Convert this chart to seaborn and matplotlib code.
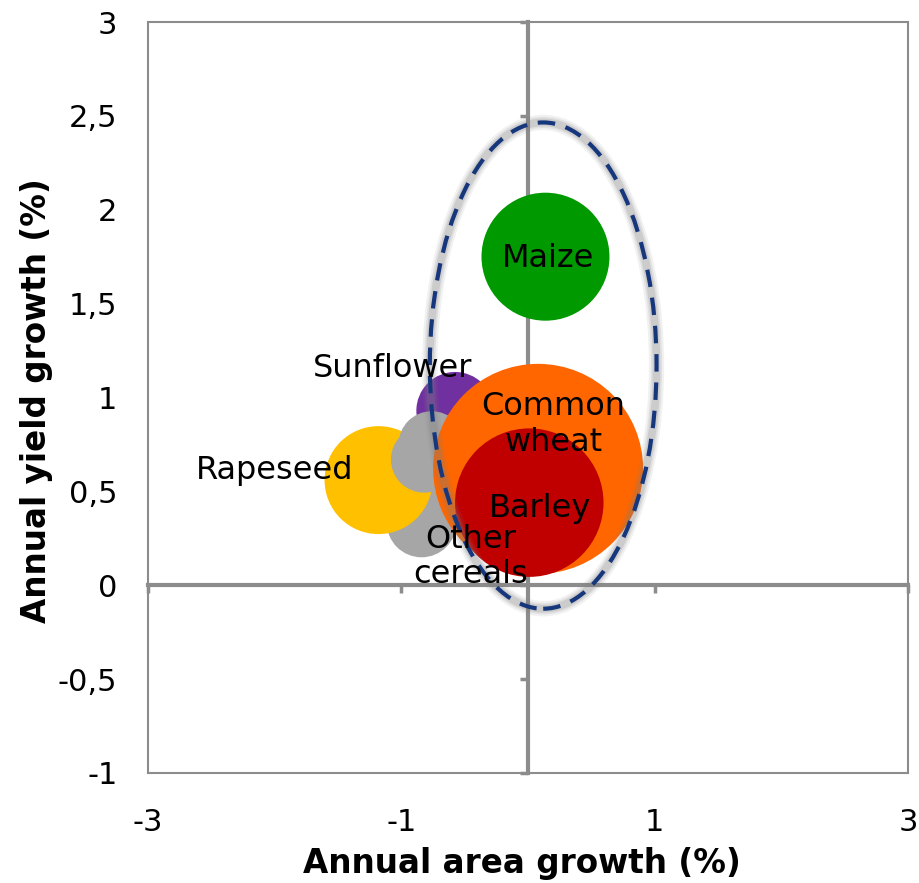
import matplotlib
matplotlib.use("Agg")
import matplotlib.pyplot as plt
import seaborn as sns
import pandas as pd
from matplotlib.patches import Ellipse

# Crop bubbles, listed in drawing order (later rows sit on top)
crops = ["Other cereals", "Rapeseed", "Sunflower", "Other cereals", "Other cereals",
         "Common wheat", "Barley", "Maize"]
area_growth = [-0.84, -1.18, -0.576, -0.76, -0.82, 0.08, 0.01, 0.138]
yield_growth = [0.335, 0.56, 0.93, 0.75, 0.67, 0.62, 0.44, 1.75]
production = [15.5, 37, 19, 14, 14, 140, 70, 52]

x_ticks = [-3, -1, 1, 3]
y_ticks = [-1, -0.5, 0, 0.5, 1, 1.5, 2, 2.5, 3]
y_tick_labels = [("%g" % v).replace(".", ",") for v in y_ticks]

palette = {
    "Maize": "#009900",
    "Common wheat": "#FF6600",
    "Barley": "#C00000",
    "Sunflower": "#7030A0",
    "Rapeseed": "#FFC000",
    "Other cereals": "#A6A6A6",
}
label_text = {
    "Maize": "Maize",
    "Common wheat": "Common\nwheat",
    "Barley": "Barley",
    "Sunflower": "Sunflower",
    "Rapeseed": "Rapeseed",
    "Other cereals": "Other\ncereals",
}
label_offset = {  # points, relative to the bubble centre
    "Maize": (2, -1),
    "Common wheat": (11, 32),
    "Barley": (8, -4),
    "Sunflower": (-45, 30),
    "Rapeseed": (-75, 7),
    "Other cereals": (35, -25),
}

df = pd.DataFrame({"crop": crops, "area": area_growth, "yield": yield_growth,
                   "prod": production})

sns.set_theme(style="white")
plt.rcParams["font.family"] = ["DejaVu Sans"]

GRID = "#8C8C8C"
fig = plt.figure(figsize=(9.2, 8.83), dpi=100)
pos = [148 / 920, 110 / 883, 760 / 920, 751 / 883]

# Back axes: the axis lines crossing at zero, with their tick marks
ax0 = fig.add_axes(pos)
ax = fig.add_axes(pos, sharex=ax0, sharey=ax0)
ax0.set_xlim(-3, 3)
ax0.set_ylim(-1, 3)
ax0.set_xticks(x_ticks)
ax0.set_yticks(y_ticks)
for s in ("top", "right"):
    ax0.spines[s].set_visible(False)
for s in ("left", "bottom"):
    ax0.spines[s].set_position(("data", 0))
    ax0.spines[s].set_color(GRID)
    ax0.spines[s].set_linewidth(3)
ax0.tick_params(direction="out", length=6, width=2.5, color=GRID,
                labelleft=False, labelbottom=False, left=True, bottom=True)
ax0.set_facecolor("white")

# Front axes: bubbles, frame, labels
ax.set_zorder(2)
ax.patch.set_alpha(0)
sns.scatterplot(data=df, x="area", y="yield", hue="crop", palette=palette,
                size="prod", sizes=(0, 22861), size_norm=(0, 140),
                linewidth=0, alpha=1, legend=False, ax=ax, zorder=3)
ax.set_xlabel("")
ax.set_ylabel("")

ell_kw = dict(xy=(0.12, 1.17), width=1.79, height=2.59, fill=False)
for lw, a in ((11, 0.10), (8, 0.14), (5.5, 0.2)):
    ax.add_patch(Ellipse(**ell_kw, lw=lw, edgecolor="#7F7F7F", alpha=a, zorder=4))
ax.add_patch(Ellipse(**ell_kw, lw=3, edgecolor="#17377D",
                     linestyle=(0, (4.2, 2.6)), zorder=5))

seen = set()
for c, xv, yv in zip(crops, area_growth, yield_growth):
    if c in seen:
        continue
    seen.add(c)
    ax.annotate(label_text[c], xy=(xv, yv), xytext=label_offset[c],
                textcoords="offset points", ha="center", va="center",
                fontsize=23, color="black", linespacing=1.2, zorder=6)

ax.set_xlim(-3, 3)
ax.set_ylim(-1, 3)
ax.set_xticks(x_ticks)
ax.set_xticklabels([str(v) for v in x_ticks])
ax.set_yticks(y_ticks)
ax.set_yticklabels(y_tick_labels)
ax.tick_params(axis="both", length=0, labelsize=22, colors="black")
ax.tick_params(axis="y", pad=22)
ax.tick_params(axis="x", pad=25)
for s in ax.spines.values():
    s.set_visible(True)
    s.set_color(GRID)
    s.set_linewidth(1.5)

fig.text(522 / 920, 1 - 864 / 883, "Annual area growth (%)", fontsize=23.5,
         fontweight="bold", color="black", ha="center", va="center")
fig.text(37 / 920, 1 - 401 / 883, "Annual yield growth (%)", fontsize=23.5,
         fontweight="bold", color="black", ha="center", va="center",
         rotation=90)

fig.savefig("out.png", dpi=100)
